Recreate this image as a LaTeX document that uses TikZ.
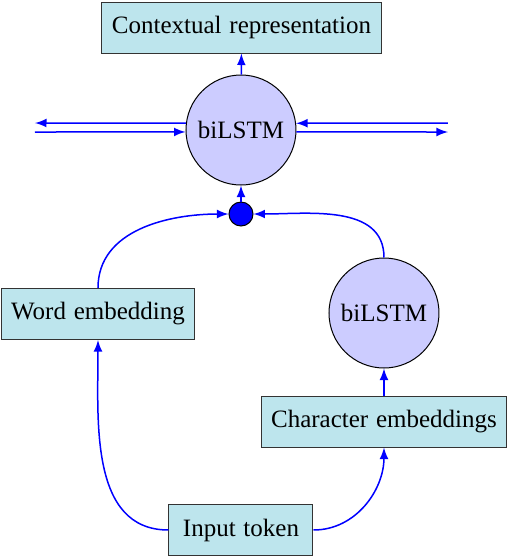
\documentclass[tikz,border=0pt]{standalone}
\usepackage{fontspec}
\setmainfont{Liberation Serif}
\usetikzlibrary{arrows}
\definecolor{boxfill}{RGB}{189,229,237}
\tikzset{
	layer/.style={draw=black!80, fill=boxfill, inner xsep=4pt, minimum height=20.4pt},
	lstm/.style={draw, circle, fill=blue!20, minimum size=44pt, inner sep=0pt},
	merge/.style={draw, circle, fill=blue, minimum size=9.6pt, inner sep=0pt},
	link/.style={-latex, blue, semithick}
}

\begin{document}
\begin{tikzpicture}[x=0.4pt, y=-0.4pt]
	\useasboundingbox (0,0) rectangle (510,556);
	\node [layer] (ctx) at (241.5,27.5) {Contextual\hspace{0.6pt} representation};
	\node [lstm] (toplstm) at (241,130) {biLSTM};
	\node [merge] (dot) at (241,214) {};
	\node [layer] (word) at (98,314) {Word\hspace{0.6pt} embedding};
	\node [lstm] (charlstm) at (384,313) {biLSTM};
	\node [layer] (chars) at (384,421.5) {Character\hspace{0.6pt} embeddings};
	\node [layer, minimum width=57.6pt] (input) at (241,530) {Input\hspace{0.6pt} token};
	\coordinate (lout) at (35,123);
	\coordinate (lin) at (35,132);
	\coordinate (rin) at (448,123);
	\coordinate (rout) at (448,132);

	% inputs to the embeddings
	\draw [link] (input.west) to [out=180, in=-90] (word.south);
	\draw [link] (input.east) to [out=0, in=-90] (chars.south);
	\draw [link] (chars) -- (charlstm);
	% merge and top layer
	\draw [link] (word.north) to [out=90, in=180] (dot.west);
	\draw [link] (charlstm.north) to [out=90, in=0] (dot.east);
	\draw [link] (dot) -- (toplstm);
	\draw [link] (toplstm) -- (ctx);
	% recurrent links
	\draw [link] (toplstm.173) -- (lout);
	\draw [link] (lin) -- (toplstm.182);
	\draw [link] (rin) -- (toplstm.7);
	\draw [link] (toplstm.-2) -- (rout);
\end{tikzpicture}
\end{document}
